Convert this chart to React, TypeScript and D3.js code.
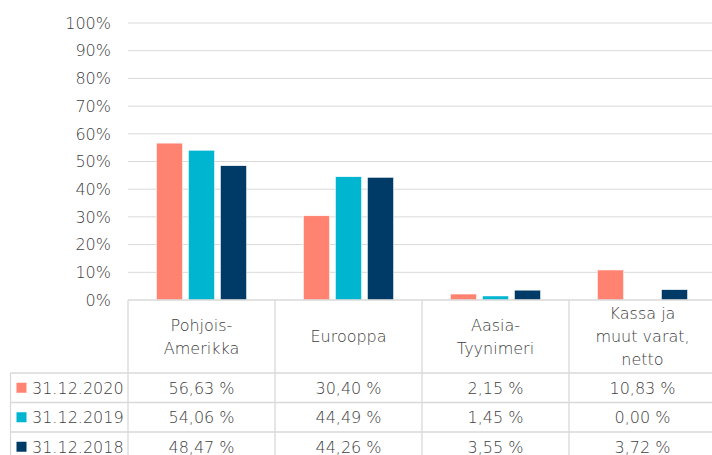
import React, { useRef, useEffect } from 'react';
import * as d3 from 'd3';

// chart data
const categories = ['Pohjois-\nAmerikka', 'Eurooppa', 'Aasia-\nTyynimeri', 'Kassa ja\nmuut varat,\nnetto'];
const seriesNames = ['31.12.2020', '31.12.2019', '31.12.2018'];
const values2020 = [56.63, 30.4, 2.15, 10.83];
const values2019 = [54.06, 44.49, 1.45, 0.0];
const values2018 = [48.47, 44.26, 3.55, 3.72];
const yTicks = [0, 10, 20, 30, 40, 50, 60, 70, 80, 90, 100];

const colors = ['#FF8370', '#00B5D0', '#003A66'];
const textColor = '#404040';
const lineColor = '#D9D9D9';
const font = '"DejaVu Sans", sans-serif';
const fontWeight = 200;

const App = () => {
  const svgRef = useRef<SVGSVGElement>(null);

  useEffect(() => {
    const svg = d3.select(svgRef.current);
    svg.selectAll('*').remove();

    const width = 712;
    const height = 455;
    const plotLeft = 128;
    const plotRight = 716;
    const tableLeft = 10.5;
    const headerBottom = 373;
    const rowH = 29.5;

    const series = [values2020, values2019, values2018];

    const y = d3.scaleLinear().domain([0, 100]).range([300, 23]);
    const x0 = d3.scaleBand<string>().domain(categories).range([plotLeft, plotRight]);
    const x1 = d3.scaleBand<string>().domain(seriesNames).range([-45, 45]).paddingInner(0.1875);

    const txt = (sel: any) =>
      sel.attr('font-family', font)
        .attr('font-size', 16)
        .attr('font-weight', fontWeight)
        .attr('fill', textColor);

    // gridlines
    svg.append('g')
      .selectAll('line')
      .data(yTicks.filter(t => t > 0))
      .enter()
      .append('line')
      .attr('x1', plotLeft)
      .attr('x2', width)
      .attr('y1', d => y(d))
      .attr('y2', d => y(d))
      .attr('stroke', lineColor)
      .attr('stroke-width', 1);

    // y labels
    svg.append('g')
      .selectAll('text')
      .data(yTicks)
      .enter()
      .append('text')
      .attr('x', 111)
      .attr('y', d => y(d))
      .attr('dy', '0.36em')
      .attr('text-anchor', 'end')
      .call(txt)
      .text(d => `${d}%`);

    // bars
    series.forEach((vals, si) => {
      svg.append('g')
        .selectAll('rect')
        .data(vals)
        .enter()
        .append('rect')
        .attr('x', (_, i) => x0(categories[i])! + x0.bandwidth() / 2 + x1(seriesNames[si])!)
        .attr('y', d => y(d))
        .attr('width', x1.bandwidth())
        .attr('height', d => y(0) - y(d))
        .attr('fill', colors[si])
        .attr('stroke', '#fff')
        .attr('stroke-width', 0.5);
    });

    // table lines
    const grid = svg.append('g').attr('stroke', lineColor).attr('stroke-width', 1.3);
    grid.append('line').attr('x1', plotLeft).attr('x2', width).attr('y1', y(0)).attr('y2', y(0));
    d3.range(4).forEach(r => {
      const yy = headerBottom + r * rowH;
      grid.append('line').attr('x1', tableLeft).attr('x2', width).attr('y1', yy).attr('y2', yy);
    });
    grid.append('line').attr('x1', tableLeft).attr('x2', tableLeft).attr('y1', headerBottom).attr('y2', height);
    categories.forEach(c => {
      const xx = x0(c)!;
      grid.append('line').attr('x1', xx).attr('x2', xx).attr('y1', y(0)).attr('y2', height);
    });

    // header labels
    categories.forEach(c => {
      const lines = c.split('\n');
      const cx = x0(c)! + x0.bandwidth() / 2;
      const cy = (y(0) + headerBottom) / 2;
      const lh = 23;
      const t = svg.append('text')
        .attr('text-anchor', 'middle')
        .call(txt);
      lines.forEach((ln, i) => {
        t.append('tspan')
          .attr('x', cx)
          .attr('y', cy + (i - (lines.length - 1) / 2) * lh)
          .attr('dy', '0.36em')
          .text(ln);
      });
    });

    // rows
    series.forEach((vals, si) => {
      const cy = headerBottom + si * rowH + rowH / 2;
      svg.append('rect')
        .attr('x', 16.5)
        .attr('y', cy - 5)
        .attr('width', 10)
        .attr('height', 10)
        .attr('fill', colors[si]);
      svg.append('text')
        .attr('x', 32)
        .attr('y', cy)
        .attr('dy', '0.36em')
        .call(txt)
        .text(seriesNames[si]);
      svg.append('g')
        .selectAll('text')
        .data(vals)
        .enter()
        .append('text')
        .attr('x', (_, i) => x0(categories[i])! + x0.bandwidth() / 2)
        .attr('y', cy)
        .attr('dy', '0.36em')
        .attr('text-anchor', 'middle')
        .call(txt)
        .text(d => `${d.toFixed(2).replace('.', ',')} %`);
    });
  }, []);

  return (
    <div style={{ position: 'absolute', left: 0, top: 0, width: 712, height: 455, background: '#fff' }}>
      <svg ref={svgRef} width={712} height={455} style={{ display: 'block' }} />
    </div>
  );
};

export default App;
